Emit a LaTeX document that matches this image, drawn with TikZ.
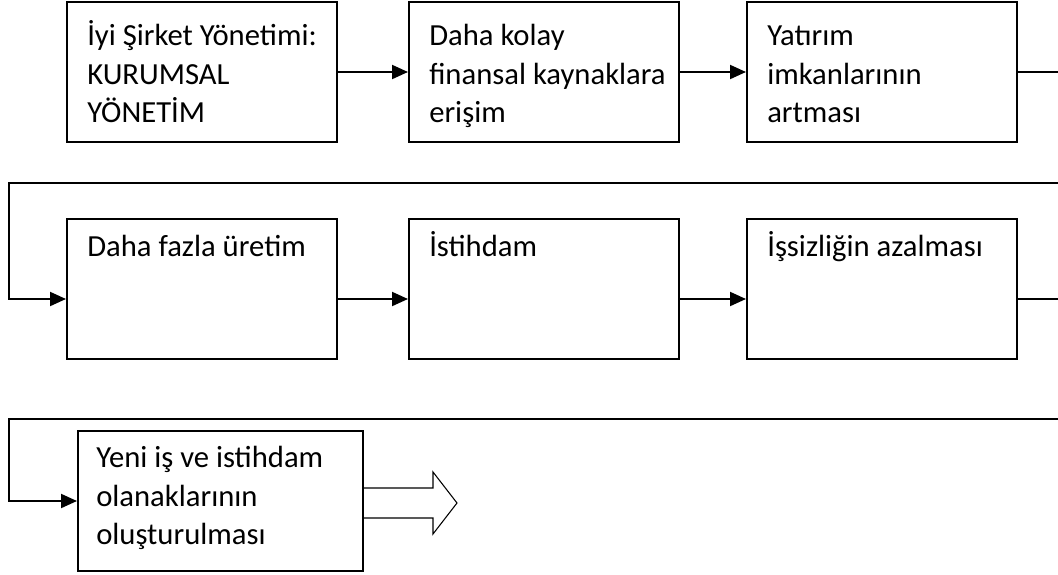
\documentclass[tikz,border=0pt]{standalone}
\usepackage{fontspec}
\setmainfont{Carlito}
\usetikzlibrary{arrows.meta,calc}

\begin{document}
\begin{tikzpicture}[x=0.75pt,y=-0.75pt,
    kutu/.style={draw,line width=1.5pt,minimum width=202.5pt,minimum height=105pt,inner sep=0pt},
    yazi/.style={anchor=north west,align=left,inner sep=0pt,font=\fontsize{23}{29}\selectfont},
    ok/.style={line width=1.5pt,-{Triangle[length=12pt,width=10.5pt]}}]

\useasboundingbox (0,0) rectangle (1058,575);
\clip (0,0) rectangle (1058,575);

% first row
\foreach \n/\x/\metin in {1/202/{İyi Şirket Yönetimi:\\KURUMSAL\\YÖNETİM},
                          2/544/{Daha kolay\\finansal kaynaklara\\erişim},
                          3/882/{Yatırım\\imkanlarının\\artması}} {
    \node[kutu] (k\n) at (\x,72) {};
    \node[yazi] (y\n) at ($(k\n.north west)+(21,17)$) {\strut\metin};
}

% second row
\foreach \n/\x/\metin in {4/202/{Daha fazla üretim},
                          5/544/{İstihdam},
                          6/882/{İşsizliğin azalması}} {
    \node[kutu] (k\n) at (\x,289) {};
    \node[yazi] (y\n) at ($(k\n.north west)+(21,11)$) {\strut\metin};
}

% third row
\node[kutu,minimum width=213.75pt] (k7) at (220.5,501) {};
\node[yazi] (y7) at ($(k7.north west)+(19,10)$)
    {\strut Yeni iş ve istihdam\\olanaklarının\\oluşturulması};

% turning points on the left
\coordinate (don1) at (9,183);
\coordinate (don2) at (9,419);

% arrows
\draw[ok] (k1) -- (k2);
\draw[ok] (k2) -- (k3);
\draw[ok] (k3.east) -- ++(60,0) |- (don1) |- ([yshift=-7.5pt]k4.west);
\draw[ok] ([yshift=-7.5pt]k4.east) -- ([yshift=-7.5pt]k5.west);
\draw[ok] ([yshift=-7.5pt]k5.east) -- ([yshift=-7.5pt]k6.west);
\draw[ok] ([yshift=-7.5pt]k6.east) -- ++(60,0) |- (don2) |- (k7.west);

% open block arrow
\draw[line width=0.8pt] ($(k7.east)+(0,-13)$) -- ++(69,0) -- ++(0,-16)
    -- ++(24,31) -- ++(-24,31) -- ++(0,-16) -- ++(-69,0);

\end{tikzpicture}
\end{document}
